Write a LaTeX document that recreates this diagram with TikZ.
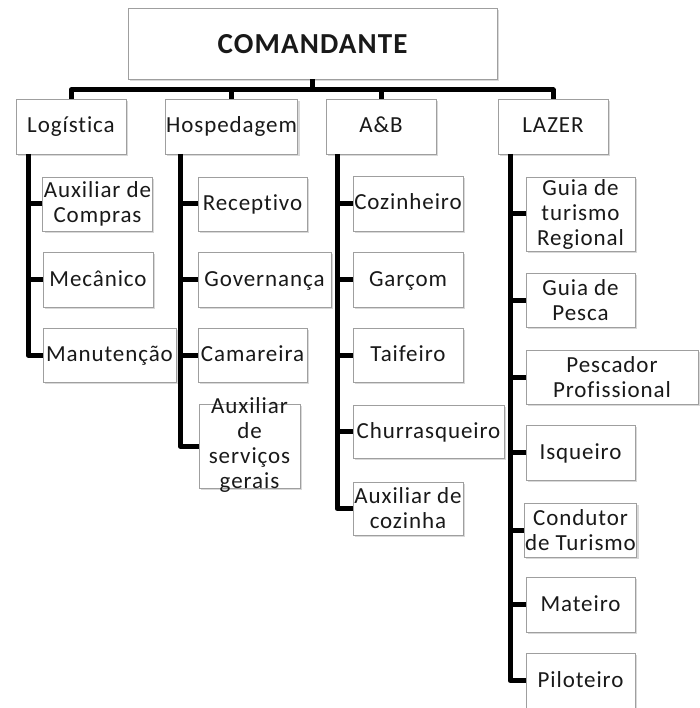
\documentclass[tikz,border=0pt]{standalone}
\usepackage{fontspec}
\setmainfont{Carlito}[LetterSpace=4, Ligatures=NoCommon]
\usetikzlibrary{shadows}

\begin{document}
\begin{tikzpicture}[
    x=1pt, y=-1pt, % one unit per pixel, y pointing down
    box/.style={draw=gray!75, fill=white, line width=0.9pt, align=center, inner sep=1pt,
        text=black!90, font=\fontsize{23}{25}\selectfont,
        text height=18pt, text depth=5pt,
        minimum width=110pt, minimum height=55pt,
        drop shadow={shadow xshift=1.8pt, shadow yshift=-1.8pt, opacity=0.3}}, % Style for boxes
    multi/.style={text height=, text depth=}, % Boxes with several lines
    topbox/.style={box, font=\fontsize{29}{32}\selectfont\bfseries, text height=20pt, text depth=0pt}, % Style for the top box
    conn/.style={line width=5pt, line join=round} % Style for connectors
]

    \useasboundingbox (0,0) rectangle (699,708);

    % Top and second level
    \node[topbox, minimum width=369pt, minimum height=71pt] (com) at (312.5,43.5) {COMANDANTE};
    \node[box] (log) at (71,126.5) {Logística};
    \node[box, minimum width=131pt] (hos) at (231.5,126.5) {Hospedagem};
    \node[box] (ab)  at (381,126.5) {A\&B};
    \node[box] (laz) at (553,126.5) {LAZER};

    % Logística
    \node[box, multi, minimum width=109pt, minimum height=54pt] (acp) at (97.5,204) {Auxiliar de\\Compras};
    \node[box] (mec) at (98,279.5) {Mecânico};
    \node[box, minimum width=133pt, minimum height=54pt] (man) at (109.5,355) {Manutenção};

    % Hospedagem
    \node[box, minimum width=109pt, minimum height=54pt] (rec) at (252.5,204) {Receptivo};
    \node[box, minimum width=133pt] (gov) at (264.5,279.5) {Governança};
    \node[box, minimum width=109pt, minimum height=54pt] (cam) at (252.5,355) {Camareira};
    \node[box, text height=0pt, text depth=0pt, minimum width=101pt, minimum height=84pt] (asg) at (249.5,446)
        {\smash{\raisebox{-6pt}{\begin{tabular}{@{}c@{}}Auxiliar\\de\\serviços\\gerais\end{tabular}}}};

    % A&B
    \node[box] (coz) at (408,203.5) {Cozinheiro};
    \node[box] (gar) at (408,279.5) {Garçom};
    \node[box, minimum height=54pt] (tai) at (408,355) {Taifeiro};
    \node[box, minimum width=151pt, minimum height=53pt] (chu) at (428.5,431.5) {Churrasqueiro};
    \node[box, multi, minimum height=53pt] (acz) at (408,508.5) {Auxiliar de\\cozinha};

    % LAZER
    \node[box, multi, minimum width=109pt, minimum height=74pt] (gtr) at (580.5,214) {Guia de\\turismo\\Regional};
    \node[box, multi, minimum width=109pt, minimum height=54pt] (gpe) at (580.5,300) {Guia de\\Pesca};
    \node[box, multi, minimum width=172pt, minimum height=54pt] (ppr) at (612,377) {Pescador\\Profissional};
    \node[box, minimum width=109pt] (isq) at (580.5,452.5) {Isqueiro};
    \node[box, multi, minimum width=109pt, minimum height=54pt] (cdt) at (580.5,530) {Condutor\\de Turismo};
    \node[box, minimum width=109pt] (mat) at (580.5,604.5) {Mateiro};
    \node[box, minimum width=109pt] (pil) at (580.5,680.5) {Piloteiro};

    % Bus under the top box
    \coordinate (bus) at (312,90);
    \draw[conn] (com.south) -- (com.south |- bus);
    \draw[conn] (log.north) -- (log.north |- bus) -- (laz.north |- bus) -- (laz.north);
    \draw[conn] (hos.north) -- (hos.north |- bus);
    \draw[conn] (ab.north) -- (ab.north |- bus);

    % Vertical bars of each column
    \coordinate (logbar) at (28,154);
    \coordinate (hosbar) at (180,154);
    \coordinate (abbar)  at (337,154);
    \coordinate (lazbar) at (510,154);

    \draw[conn] (logbar) |- (man.west);
    \foreach \n in {acp, mec} \draw[conn] (\n.west) -- (\n.west -| logbar);

    \draw[conn] (hosbar) |- (asg.west);
    \foreach \n in {rec, gov, cam} \draw[conn] (\n.west) -- (\n.west -| hosbar);

    \draw[conn] (abbar) |- (acz.west);
    \foreach \n in {coz, gar, tai, chu} \draw[conn] (\n.west) -- (\n.west -| abbar);

    \draw[conn] (lazbar) |- (pil.west);
    \foreach \n in {gtr, gpe, ppr, isq, cdt, mat} \draw[conn] (\n.west) -- (\n.west -| lazbar);

\end{tikzpicture}
\end{document}
